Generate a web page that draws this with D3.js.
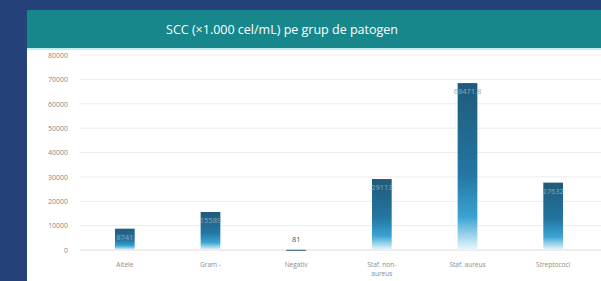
<!DOCTYPE html>
<html><head><meta charset="utf-8">
<script src="https://cdn.jsdelivr.net/npm/d3@7"></script>
<style>body{margin:0;background:#25437a;}svg{display:block;}</style>
</head><body>
<svg id="c" width="601" height="281"></svg>
<script>
const categories = [["Altele"],["Gram -"],["Negativ"],["Staf. non-","aureus"],["Staf. aureus"],["Streptococi"]];
const values = [8741, 15589, 81, 29113, 68471.8, 27632];
const valueLabels = ["8741","15589","81","29113","68471.8","27632"];
const yTicks = [0,10000,20000,30000,40000,50000,60000,70000,80000];
const title = "SCC (×1.000 cel/mL) pe grup de patogen";

const svg = d3.select("#c");
svg.append("rect").attr("width",601).attr("height",281).attr("fill","#25437a");
svg.append("rect").attr("x",27).attr("y",10).attr("width",580).attr("height",275).attr("fill","#ffffff");
svg.append("rect").attr("x",27).attr("y",10).attr("width",580).attr("height",39).attr("fill","#17878c");
svg.append("rect").attr("x",27).attr("y",48).attr("width",580).attr("height",2).attr("fill","#bfeeee");
svg.append("text").attr("x",282).attr("y",34).attr("text-anchor","middle")
  .attr("fill","#ffffff").attr("font-family","Open Sans, sans-serif").attr("font-size",12.5).attr("font-weight",500)
  .text(title);

const y = d3.scaleLinear().domain([0,80000]).range([250,55]);
const x = d3.scaleBand().domain(d3.range(categories.length)).range([82,596]).paddingInner(0.77).paddingOuter(0.385);

const defs = svg.append("defs");
const g = defs.append("linearGradient").attr("id","bg").attr("x1",0).attr("y1",0).attr("x2",0).attr("y2",1);
g.append("stop").attr("offset","0%").attr("stop-color","#1f5a7a");
g.append("stop").attr("offset","55%").attr("stop-color","#2377a3");
g.append("stop").attr("offset","80%").attr("stop-color","#3aa3d2");
g.append("stop").attr("offset","100%").attr("stop-color","#eaf8fd");

svg.append("g").selectAll("line").data(yTicks.slice(1)).join("line")
  .attr("x1",80).attr("x2",601).attr("y1",d=>y(d)).attr("y2",d=>y(d))
  .attr("stroke","#ececec").attr("stroke-width",1);
svg.append("line").attr("x1",80).attr("x2",601).attr("y1",y(0)).attr("y2",y(0))
  .attr("stroke","#ead6d6").attr("stroke-width",1);

const ax = svg.append("g").attr("transform","translate(68,0)")
  .call(d3.axisLeft(y).tickValues(yTicks).tickSize(0).tickPadding(0).tickFormat(d3.format("d")));
ax.select(".domain").remove();
ax.selectAll("text").attr("fill","#8a8a8a").attr("font-size",7).attr("font-family","Open Sans, sans-serif");

svg.append("g").selectAll("rect").data(values).join("rect")
  .attr("x",(d,i)=>x(i)).attr("width",x.bandwidth())
  .attr("y",d=>y(d)).attr("height",d=>Math.max(1,y(0)-y(d)))
  .attr("fill",(d,i)=> i===2 ? "#2a5f7e" : "url(#bg)");

svg.append("g").selectAll("text").data(values).join("text")
  .attr("x",(d,i)=>x(i)+x.bandwidth()/2)
  .attr("y",(d,i)=> (y(0)-y(d))<15 ? y(d)-8 : y(d)+11)
  .attr("text-anchor","middle").attr("font-size",7.5).attr("font-family","Open Sans, sans-serif")
  .attr("fill",(d,i)=> (y(0)-y(d))<15 ? "#555" : "#8fa9b8")
  .text((d,i)=>valueLabels[i]);

const xl = svg.append("g").selectAll("text").data(categories).join("text")
  .attr("x",(d,i)=>x(i)+x.bandwidth()/2).attr("y",267)
  .attr("text-anchor","middle").attr("font-size",6.5).attr("font-family","Open Sans, sans-serif").attr("fill","#8c8c8c");
xl.selectAll("tspan").data(d=>d).join("tspan")
  .attr("x",function(){return this.parentNode.getAttribute("x");})
  .attr("dy",(d,i)=>i===0?0:9).text(d=>d);
</script>
</body></html>
